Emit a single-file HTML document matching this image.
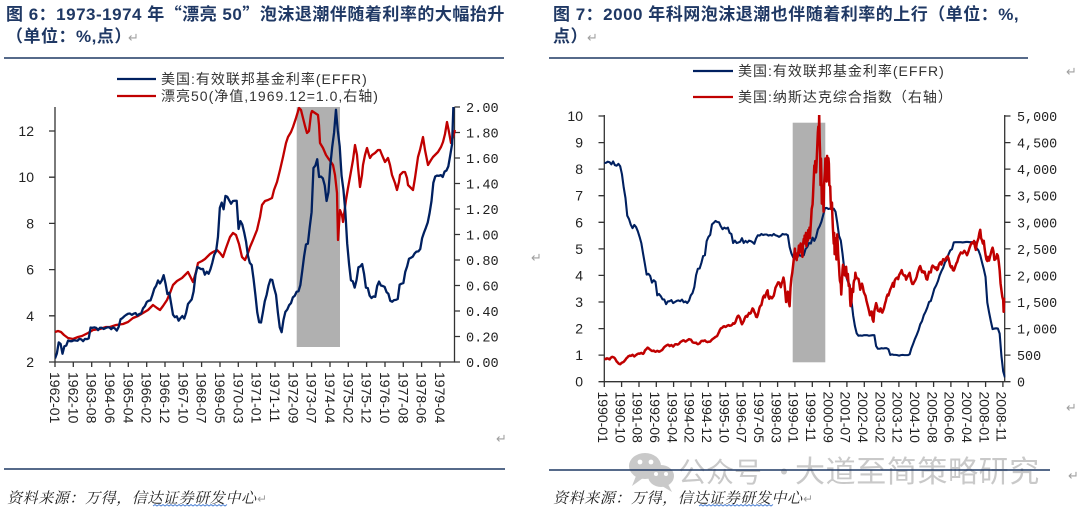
<!DOCTYPE html>
<html><head><meta charset="utf-8"><style>
html,body{margin:0;padding:0;background:#fff;}
svg{display:block;}
</style></head><body>
<svg width="1080" height="517" viewBox="0 0 1080 517" xmlns="http://www.w3.org/2000/svg">
<rect width="1080" height="517" fill="#fff"/>
<defs>
<clipPath id="cl"><rect x="55" y="107" width="400" height="255"/></clipPath>
<clipPath id="cr"><rect x="604.3" y="115" width="401" height="267"/></clipPath>
</defs>

<!-- Titles -->
<g font-family="'Liberation Sans','Noto Sans CJK SC',sans-serif" font-weight="bold" font-size="17" fill="#1f3864" letter-spacing="0.5">
<text x="6" y="20">图 6：1973-1974 年<tspan font-family="'Noto Sans CJK SC',sans-serif">“</tspan>漂亮 50<tspan font-family="'Noto Sans CJK SC',sans-serif">”</tspan>泡沫退潮伴随着利率的大幅抬升</text>
<text x="6" y="42">（单位：%,点）</text>
<text x="553" y="20">图 7：2000 年科网泡沫退潮也伴随着利率的上行（单位：%,</text>
<text x="553" y="42">点）</text>
</g>
<g font-family="'DejaVu Sans',sans-serif" font-size="13" fill="#a0a0a0">
<text x="128" y="42">↵</text>
<text x="587" y="42">↵</text>
<text x="531" y="262">↵</text>
<text x="496" y="443">↵</text>
<text x="1066" y="76">↵</text>
<text x="1066" y="412">↵</text>
<text x="1068" y="480">↵</text>
</g>

<!-- top rules -->
<line x1="4" y1="58" x2="504" y2="58" stroke="#1f3864" stroke-width="1.6"/>
<line x1="549" y1="58" x2="1028" y2="58" stroke="#1f3864" stroke-width="1.6"/>

<!-- Legends -->
<g font-family="'Liberation Sans','Noto Sans CJK SC',sans-serif" font-size="14" fill="#333" letter-spacing="1">
<line x1="117" y1="79" x2="156" y2="79" stroke="#002060" stroke-width="2.2"/>
<text x="161" y="84">美国:有效联邦基金利率(EFFR)</text>
<line x1="117" y1="96" x2="156" y2="96" stroke="#c00000" stroke-width="2.2"/>
<text x="161" y="101">漂亮50(净值,1969.12=1.0,右轴)</text>
<line x1="693" y1="71" x2="733" y2="71" stroke="#002060" stroke-width="2.2"/>
<text x="738" y="76">美国:有效联邦基金利率(EFFR)</text>
<line x1="693" y1="97" x2="733" y2="97" stroke="#c00000" stroke-width="2.2"/>
<text x="738" y="102">美国:纳斯达克综合指数（右轴）</text>
</g>

<!-- ================= LEFT CHART ================= -->
<rect x="296.7" y="107" width="43.3" height="240" fill="#b0b0b0"/>
<!-- axes -->
<g stroke="#333" stroke-width="1.3" fill="none">
<line x1="55" y1="107" x2="55" y2="362"/>
<line x1="454.5" y1="107" x2="454.5" y2="362"/>
<line x1="55" y1="362" x2="455" y2="362"/>
<path d="M49,362H55M49,315.8H55M49,269.6H55M49,223.4H55M49,177.2H55M49,131H55"/>
<path d="M454.5,362H460M454.5,336.5H460M454.5,311H460M454.5,285.5H460M454.5,260H460M454.5,234.5H460M454.5,209H460M454.5,183.5H460M454.5,158H460M454.5,132.5H460M454.5,107H460"/>
<path d="M55,362V367M73.3,362V367M91.7,362V367M110,362V367M128.3,362V367M146.7,362V367M165,362V367M183.3,362V367M201.6,362V367M220,362V367M238.3,362V367M256.6,362V367M275,362V367M293.3,362V367M311.6,362V367M330,362V367M348.3,362V367M366.6,362V367M385,362V367M403.3,362V367M421.6,362V367M440,362V367"/>
</g>
<g font-family="'Liberation Sans',sans-serif" font-size="14" fill="#222" text-anchor="end">
<text x="34" y="367">2</text>
<text x="34" y="320.8">4</text>
<text x="34" y="274.6">6</text>
<text x="34" y="228.4">8</text>
<text x="34" y="182.2">10</text>
<text x="34" y="136">12</text>
</g>
<g font-family="'Liberation Mono',monospace" font-size="13.6" fill="#222">
<text x="466" y="367">0.00</text>
<text x="466" y="341.5">0.20</text>
<text x="466" y="316">0.40</text>
<text x="466" y="290.5">0.60</text>
<text x="466" y="265">0.80</text>
<text x="466" y="239.5">1.00</text>
<text x="466" y="214">1.20</text>
<text x="466" y="188.5">1.40</text>
<text x="466" y="163">1.60</text>
<text x="466" y="137.5">1.80</text>
<text x="466" y="112">2.00</text>
</g>
<g font-family="'Liberation Sans',sans-serif" font-size="14" fill="#222" dominant-baseline="central">
<text transform="translate(55,372) rotate(90)">1962-01</text>
<text transform="translate(73.3,372) rotate(90)">1962-10</text>
<text transform="translate(91.7,372) rotate(90)">1963-08</text>
<text transform="translate(110,372) rotate(90)">1964-06</text>
<text transform="translate(128.3,372) rotate(90)">1965-04</text>
<text transform="translate(146.7,372) rotate(90)">1966-02</text>
<text transform="translate(165,372) rotate(90)">1966-12</text>
<text transform="translate(183.3,372) rotate(90)">1967-10</text>
<text transform="translate(201.6,372) rotate(90)">1968-07</text>
<text transform="translate(220,372) rotate(90)">1969-05</text>
<text transform="translate(238.3,372) rotate(90)">1970-03</text>
<text transform="translate(256.6,372) rotate(90)">1971-01</text>
<text transform="translate(275,372) rotate(90)">1971-11</text>
<text transform="translate(293.3,372) rotate(90)">1972-09</text>
<text transform="translate(311.6,372) rotate(90)">1973-07</text>
<text transform="translate(330,372) rotate(90)">1974-04</text>
<text transform="translate(348.3,372) rotate(90)">1975-02</text>
<text transform="translate(366.6,372) rotate(90)">1975-12</text>
<text transform="translate(385,372) rotate(90)">1976-10</text>
<text transform="translate(403.3,372) rotate(90)">1977-08</text>
<text transform="translate(421.6,372) rotate(90)">1978-06</text>
<text transform="translate(440,372) rotate(90)">1979-04</text>
</g>
<!-- Nifty 50 red -->
<polyline fill="none" stroke="#c00000" stroke-width="2.3" stroke-linejoin="round" points="55,332 58,331 61,332 64,335 68,338 73,339 78,337 82,336 88,333 93,330 100,329 106,327 110,327 116,325 123,324 128,322 133,318 138,316 143,313 148,310 153,305 157,308 160,310 163,306 167,300 170,293 173,285 177,281 182,278 186,274 188,272 191,278 193,282 196,272 198,263 202,261 205,259 208,256 210,254 213,252 217,250 220,253 223,257 226,248 230,237 233,233 236,235 239,244 242,257 245,260 248,253 250,247 253,240 257,230 260,217 262,205 265,201 268,200 272,198 274,190 277,182 280,170 283,157 286,143 288,137 291,132 293,127 296,118 299,108 301,110 303,118 305,126 307,133 309,131 311,114 312,111 315,113 318,115 319,125 320,143 323,148 326,155 328,158 331,162 333,165 335,175 337,193 338,240 339,225 340,210 342,215 343,222 346,200 348,188 350,177 353,160 355,145 357,155 358,167 360,187 362,175 363,165 365,155 367,148 369,155 370,158 372,155 375,153 378,150 380,150 382,155 385,162 388,158 390,165 392,175 395,183 397,190 399,182 400,175 403,172 405,172 407,178 408,185 411,188 413,190 415,178 418,157 420,150 423,137 425,150 427,160 428,165 431,160 433,157 436,154 438,152 441,147 443,142 445,134 447,122 449,132 451,143 453,137 455,130"/>
<!-- EFFR left blue -->
<g clip-path="url(#cl)">
<polyline fill="none" stroke="#002060" stroke-width="2.3" stroke-linejoin="round" vector-effect="non-scaling-stroke" transform="translate(55,408.2) scale(1.873,-23.1)" points="0,2.15 1,2.37 2,2.85 3,2.78 4,2.36 5,2.68 6,2.71 7,2.93 8,2.90 9,2.90 10,2.94 11,2.93 12,2.92 13,3.00 14,2.98 15,2.90 16,3.00 17,2.99 18,3.02 19,3.49 20,3.48 21,3.50 22,3.48 23,3.38 24,3.48 25,3.48 26,3.43 27,3.47 28,3.50 29,3.50 30,3.42 31,3.50 32,3.45 33,3.36 34,3.52 35,3.85 36,3.90 37,3.98 38,4.04 39,4.09 40,4.10 41,4.04 42,4.09 43,4.12 44,4.01 45,4.08 46,4.10 47,4.32 48,4.42 49,4.60 50,4.65 51,4.67 52,4.90 53,5.17 54,5.30 55,5.53 56,5.40 57,5.53 58,5.76 59,5.40 60,4.94 61,5.00 62,4.53 63,4.05 64,3.94 65,3.98 66,3.79 67,3.90 68,3.99 69,3.88 70,4.13 71,4.51 72,4.61 73,4.71 74,5.05 75,5.76 76,6.11 77,6.07 78,6.02 79,6.03 80,5.78 81,5.91 82,5.82 83,6.02 84,6.30 85,6.64 86,6.79 87,7.41 88,8.67 89,8.90 90,8.61 91,9.19 92,9.15 93,9.00 94,8.85 95,8.97 96,8.98 97,8.98 98,7.76 99,8.10 100,7.95 101,7.61 102,7.21 103,6.61 104,6.29 105,6.20 106,5.60 107,4.90 108,4.14 109,3.72 110,3.71 111,4.15 112,4.63 113,4.91 114,5.31 115,5.57 116,5.55 117,5.20 118,4.91 119,4.14 120,3.50 121,3.29 122,3.83 123,4.17 124,4.27 125,4.46 126,4.55 127,4.80 128,4.87 129,5.04 130,5.06 131,5.33 132,5.94 133,6.58 134,7.09 135,7.12 136,7.84 137,8.49 138,10.40 139,10.50 140,10.78 141,10.01 142,10.03 143,9.95 144,9.65 145,8.97 146,9.35 147,10.51 148,11.31 149,11.93 150,12.92 151,12.01 152,11.34 153,10.06 154,9.45 155,8.53 156,7.13 157,6.24 158,5.54 159,5.49 160,5.22 161,5.55 162,6.10 163,6.14 164,6.24 165,5.82 166,5.22 167,5.20 168,4.87 169,4.77 170,4.84 171,4.82 172,5.29 173,5.48 174,5.31 175,5.29 176,5.25 177,5.03 178,4.95 179,4.65 180,4.61 181,4.68 182,4.69 183,4.73 184,5.35 185,5.39 186,5.42 187,5.90 188,6.14 189,6.47 190,6.51 191,6.56 192,6.70 193,6.78 194,6.79 195,6.89 196,7.36 197,7.60 198,7.81 199,8.04 200,8.45 201,8.96 202,9.76 203,10.03 204,10.07 205,10.06 206,10.09 207,10.01 208,10.24 209,10.29 210,10.47 211,10.94 212,11.43 213,13.77"/>
</g>

<!-- ================= RIGHT CHART ================= -->
<rect x="792.7" y="122.7" width="32.6" height="239.6" fill="#b0b0b0"/>
<g stroke="#333" stroke-width="1.3" fill="none">
<line x1="604.3" y1="115" x2="604.3" y2="381.7"/>
<line x1="1004.7" y1="115" x2="1004.7" y2="381.7"/>
<line x1="604.3" y1="381.7" x2="1005" y2="381.7"/>
<path d="M598.5,381.7H604.3M598.5,355.1H604.3M598.5,328.6H604.3M598.5,302H604.3M598.5,275.4H604.3M598.5,248.9H604.3M598.5,222.3H604.3M598.5,195.7H604.3M598.5,169.1H604.3M598.5,142.6H604.3M598.5,116H604.3"/>
<path d="M1004.7,381.7H1010.5M1004.7,355.1H1010.5M1004.7,328.6H1010.5M1004.7,302H1010.5M1004.7,275.4H1010.5M1004.7,248.9H1010.5M1004.7,222.3H1010.5M1004.7,195.7H1010.5M1004.7,169.1H1010.5M1004.7,142.6H1010.5M1004.7,116H1010.5"/>
<path d="M604.3,381.7V387M621.6,381.7V387M639,381.7V387M656.3,381.7V387M673.6,381.7V387M691,381.7V387M708.3,381.7V387M725.6,381.7V387M743,381.7V387M760.3,381.7V387M777.6,381.7V387M794.9,381.7V387M812.3,381.7V387M829.6,381.7V387M846.9,381.7V387M864.3,381.7V387M881.6,381.7V387M898.9,381.7V387M916.2,381.7V387M933.6,381.7V387M950.9,381.7V387M968.2,381.7V387M985.6,381.7V387M1002.9,381.7V387"/>
</g>
<g font-family="'Liberation Sans',sans-serif" font-size="14" fill="#222" text-anchor="end">
<text x="583" y="386.7">0</text>
<text x="583" y="360.1">1</text>
<text x="583" y="333.6">2</text>
<text x="583" y="307">3</text>
<text x="583" y="280.4">4</text>
<text x="583" y="253.9">5</text>
<text x="583" y="227.3">6</text>
<text x="583" y="200.7">7</text>
<text x="583" y="174.1">8</text>
<text x="583" y="147.6">9</text>
<text x="583" y="121">10</text>
</g>
<g font-family="'Liberation Mono',monospace" font-size="13.4" fill="#222">
<text x="1017" y="386.7">0</text>
<text x="1017" y="360.1">500</text>
<text x="1017" y="333.6">1,000</text>
<text x="1017" y="307">1,500</text>
<text x="1017" y="280.4">2,000</text>
<text x="1017" y="253.9">2,500</text>
<text x="1017" y="227.3">3,000</text>
<text x="1017" y="200.7">3,500</text>
<text x="1017" y="174.1">4,000</text>
<text x="1017" y="147.6">4,500</text>
<text x="1017" y="121">5,000</text>
</g>
<g font-family="'Liberation Sans',sans-serif" font-size="14" fill="#222" dominant-baseline="central">
<text transform="translate(603,391.5) rotate(90)">1990-01</text>
<text transform="translate(620.3,391.5) rotate(90)">1990-10</text>
<text transform="translate(637.7,391.5) rotate(90)">1991-08</text>
<text transform="translate(655,391.5) rotate(90)">1992-06</text>
<text transform="translate(672.3,391.5) rotate(90)">1993-04</text>
<text transform="translate(689.7,391.5) rotate(90)">1994-02</text>
<text transform="translate(707,391.5) rotate(90)">1994-12</text>
<text transform="translate(724.3,391.5) rotate(90)">1995-10</text>
<text transform="translate(741.7,391.5) rotate(90)">1996-07</text>
<text transform="translate(759,391.5) rotate(90)">1997-05</text>
<text transform="translate(776.3,391.5) rotate(90)">1998-03</text>
<text transform="translate(793.6,391.5) rotate(90)">1999-01</text>
<text transform="translate(811,391.5) rotate(90)">1999-11</text>
<text transform="translate(828.3,391.5) rotate(90)">2000-09</text>
<text transform="translate(845.6,391.5) rotate(90)">2001-07</text>
<text transform="translate(863,391.5) rotate(90)">2002-04</text>
<text transform="translate(880.3,391.5) rotate(90)">2003-02</text>
<text transform="translate(897.6,391.5) rotate(90)">2003-12</text>
<text transform="translate(914.9,391.5) rotate(90)">2004-10</text>
<text transform="translate(932.3,391.5) rotate(90)">2005-08</text>
<text transform="translate(949.6,391.5) rotate(90)">2006-06</text>
<text transform="translate(966.9,391.5) rotate(90)">2007-04</text>
<text transform="translate(984.3,391.5) rotate(90)">2008-01</text>
<text transform="translate(1001.6,391.5) rotate(90)">2008-11</text>
</g>
<g clip-path="url(#cr)">
<!-- EFFR right blue -->
<polyline fill="none" stroke="#002060" stroke-width="2.1" stroke-linejoin="round" vector-effect="non-scaling-stroke" transform="translate(604.3,381.7) scale(1.765,-26.57)" points="0,8.23 1,8.24 2,8.28 3,8.26 4,8.18 5,8.29 6,8.15 7,8.13 8,8.20 9,8.11 10,7.81 11,7.31 12,6.91 13,6.25 14,6.12 15,5.91 16,5.78 17,5.90 18,5.82 19,5.66 20,5.45 21,5.21 22,4.81 23,4.43 24,4.03 25,4.06 26,3.98 27,3.73 28,3.82 29,3.76 30,3.25 31,3.30 32,3.22 33,3.10 34,3.09 35,2.92 36,3.02 37,3.03 38,3.07 39,2.96 40,3.00 41,3.04 42,3.06 43,3.03 44,3.09 45,2.99 46,3.02 47,2.96 48,3.05 49,3.25 50,3.34 51,3.56 52,4.01 53,4.25 54,4.26 55,4.47 56,4.73 57,4.76 58,5.29 59,5.45 60,5.53 61,5.92 62,5.98 63,6.05 64,6.01 65,6.00 66,5.85 67,5.74 68,5.80 69,5.76 70,5.80 71,5.60 72,5.56 73,5.22 74,5.31 75,5.22 76,5.24 77,5.27 78,5.40 79,5.22 80,5.30 81,5.24 82,5.31 83,5.29 84,5.25 85,5.19 86,5.39 87,5.51 88,5.50 89,5.56 90,5.52 91,5.54 92,5.54 93,5.50 94,5.52 95,5.50 96,5.56 97,5.51 98,5.49 99,5.45 100,5.49 101,5.56 102,5.54 103,5.55 104,5.51 105,5.07 106,4.83 107,4.68 108,4.63 109,4.76 110,4.81 111,4.74 112,4.74 113,4.76 114,4.99 115,5.07 116,5.22 117,5.20 118,5.42 119,5.30 120,5.45 121,5.73 122,5.85 123,6.02 124,6.27 125,6.53 126,6.54 127,6.50 128,6.52 129,6.51 130,6.51 131,6.40 132,5.98 133,5.49 134,5.31 135,4.80 136,4.21 137,3.97 138,3.77 139,3.65 140,3.07 141,2.49 142,2.09 143,1.82 144,1.73 145,1.74 146,1.73 147,1.75 148,1.75 149,1.75 150,1.73 151,1.74 152,1.75 153,1.75 154,1.34 155,1.24 156,1.24 157,1.26 158,1.25 159,1.26 160,1.26 161,1.22 162,1.01 163,1.03 164,1.01 165,1.01 166,1.00 167,0.98 168,1.00 169,1.01 170,1.00 171,1.00 172,1.00 173,1.03 174,1.26 175,1.43 176,1.61 177,1.76 178,1.93 179,2.16 180,2.28 181,2.50 182,2.63 183,2.79 184,3.00 185,3.04 186,3.26 187,3.50 188,3.62 189,3.78 190,4.00 191,4.16 192,4.29 193,4.49 194,4.59 195,4.79 196,4.94 197,4.99 198,5.24 199,5.25 200,5.25 201,5.25 202,5.25 203,5.24 204,5.25 205,5.26 206,5.26 207,5.25 208,5.25 209,5.25 210,5.26 211,5.02 212,4.94 213,4.76 214,4.49 215,4.24 216,3.94 217,2.98 218,2.61 219,2.28 220,1.98 221,2.00 222,2.01 223,2.00 224,1.81 225,0.97 226,0.39 227,0.16"/>
<!-- Nasdaq red -->
<polyline fill="none" stroke="#c00000" stroke-width="2.5" stroke-linejoin="round" vector-effect="non-scaling-stroke" transform="translate(604.3,381.7) scale(1.765,-0.05314)" points="0,415 0.5,432 1,425 1.5,440 2,435 2.5,428 3,420 3.5,445 4,458 4.5,468 5,462 5.5,455 6,438 6.5,410 7,381 7.5,365 8,345 8.5,335 9,329 9.5,345 10,359 10.5,365 11,374 12,414 12.5,440 13,453 13.5,475 14,482 14.5,492 15,485 15.5,495 16,506 16.5,490 17,475 17.5,490 18,502 18.5,515 19,525 19.5,530 20,527 20.5,535 21,542 21.5,530 22,523 22.5,545 23,586 24,620 24.5,640 25,633 25.5,615 26,603 26.5,590 27,578 27.5,580 28,585 28.5,570 29,563 29.5,570 30,581 30.5,575 31,563 31.5,570 32,583 32.5,590 33,605 33.5,630 34,652 34.5,665 35,677 36,696 36.5,690 37,670 37.5,680 38,690 38.5,675 39,661 39.5,680 40,700 40.5,705 41,704 41.5,698 42,705 42.5,720 43,743 43.5,755 44,763 44.5,775 45,779 45.5,765 46,754 46.5,765 47,777 48,800 48.5,795 49,793 49.5,770 50,743 50.5,735 51,733 51.5,730 52,735 52.5,715 53,706 53.5,712 54,722 54.5,745 55,766 55.5,770 56,764 56.5,772 57,777 57.5,760 58,750 58.5,745 59,752 60,755 60.5,775 61,793 61.5,805 62,817 62.5,830 63,843 63.5,850 64,864 64.5,900 65,933 65.5,975 66,1001 66.5,1010 67,1020 67.5,1040 68,1044 68.5,1030 69,1036 69.5,1050 70,1059 70.5,1065 71,1052 72,1060 72.5,1075 73,1100 73.5,1090 74,1101 74.5,1140 75,1191 75.5,1230 76,1243 76.5,1220 77,1185 77.5,1120 78,1081 78.5,1110 79,1141 79.5,1190 80,1227 80.5,1240 81,1222 81.5,1260 82,1293 82.5,1280 83,1291 84,1380 84.5,1360 85,1309 85.5,1280 86,1222 86.5,1215 87,1261 87.5,1330 88,1400 88.5,1430 89,1442 89.5,1520 90,1594 90.5,1620 91,1587 91.5,1640 92,1686 92.5,1720 93,1594 93.5,1560 94,1601 94.5,1590 95,1570 96,1619 96.5,1690 97,1771 97.5,1800 98,1835 98.5,1870 99,1868 99.5,1830 100,1779 100.5,1850 101,1895 101.5,1960 102,1873 102.5,1700 103,1499 103.5,1620 104,1694 104.5,1500 105,1420 105.25,1600 105.5,1771 106,1950 106.5,2050 107,2193 108,2505 108.25,2350 108.5,2420 109,2288 109.25,2400 109.5,2350 110,2461 110.25,2560 110.5,2420 111,2543 111.25,2600 111.5,2450 112,2471 112.25,2350 112.5,2560 113,2686 113.25,2600 113.5,2750 114,2638 114.25,2800 114.5,2550 115,2739 115.25,2650 115.5,2850 116,2746 116.25,2900 116.5,2700 117,2966 117.25,3100 117.5,3250 118,3336 118.25,3500 118.5,3700 119,4069 119.25,3950 119.5,4150 120,3940 120.25,4100 120.5,4300 121,4697 121.25,4800 121.5,4550 121.75,5048 122,4573 122.25,4300 122.5,3700 122.75,4200 123,3861 123.25,3350 123.5,3600 124,3401 124.25,3200 124.5,3700 125,3966 125.25,4200 125.5,3900 126,3767 126.25,4250 126.5,4000 127,4206 127.25,4100 127.5,3700 128,3673 128.25,3400 128.5,3250 129,3370 129.25,3100 129.5,2900 130,2598 130.25,2800 130.5,2400 131,2471 131.25,2700 131.5,2300 132,2773 132.25,2600 132.5,2400 133,2152 133.25,2000 133.5,1900 134,1840 134.25,1640 134.5,1800 135,2116 135.25,2200 135.5,2050 136,2110 136.25,2000 136.5,2150 137,2161 137.25,2050 137.5,1950 138,2027 138.25,1900 138.5,1800 139,1805 139.25,1550 139.5,1423 140,1499 140.25,1650 140.5,1750 141,1690 141.25,1850 141.5,1900 142,1931 142.25,2050 142.5,2000 143,1950 144,1934 144.5,1850 145,1731 145.5,1800 146,1845 146.5,1780 147,1688 147.5,1650 148,1616 148.5,1530 149,1463 149.5,1400 150,1328 150.5,1250 151,1315 151.5,1320 152,1172 152.5,1130 153,1330 153.5,1400 154,1479 154.5,1420 155,1336 156,1321 156.5,1380 157,1338 157.5,1300 158,1341 158.5,1390 159,1464 159.5,1520 160,1596 160.5,1640 161,1623 161.5,1680 162,1735 162.5,1770 163,1810 163.5,1860 164,1787 164.5,1900 165,1932 165.5,1950 166,1960 166.5,1930 167,2003 168,2066 168.5,2100 169,2030 169.5,2010 170,1994 170.5,2000 171,1920 171.5,1960 172,1987 172.5,2020 173,2048 173.5,1960 174,1887 174.5,1840 175,1838 175.5,1870 176,1897 176.5,1930 177,1975 177.5,2050 178,2097 178.5,2150 179,2175 180,2062 180.5,2080 181,2052 181.5,2070 182,1999 182.5,1930 183,1922 183.5,2000 184,2068 184.5,2060 185,2057 185.5,2150 186,2185 186.5,2170 187,2152 187.5,2130 188,2152 188.5,2100 189,2120 189.5,2200 190,2233 190.5,2250 191,2205 192,2306 192.5,2290 193,2281 193.5,2320 194,2340 194.5,2360 195,2323 195.5,2250 196,2179 196.5,2150 197,2172 197.5,2100 198,2091 198.5,2130 199,2184 199.5,2230 200,2258 200.5,2320 201,2367 201.5,2400 202,2432 202.5,2420 203,2415 204,2464 204.5,2440 205,2416 205.5,2380 206,2422 206.5,2470 207,2525 207.5,2570 208,2605 208.5,2620 209,2603 209.5,2650 210,2546 210.5,2480 211,2596 211.5,2650 212,2702 212.5,2800 213,2859 213.5,2700 214,2661 214.5,2600 215,2652 215.5,2500 216,2389 216.5,2300 217,2271 217.5,2350 218,2279 218.5,2350 219,2413 219.5,2480 220,2523 220.5,2450 221,2293 221.5,2300 222,2326 222.5,2400 223,2368 223.5,2250 224,2092 224.5,1850 225,1721 225.5,1600 226,1536 226.25,1316 226.5,1450 227,1577"/>
</g>

<!-- Watermark -->
<g fill="#c4c4c4" opacity="0.9">
<ellipse cx="645" cy="466" rx="16" ry="13"/>
<path d="M636,476 L632,486 L643,478 Z"/>
<ellipse cx="661" cy="476" rx="13" ry="11"/>
<path d="M668,484 L672,492 L662,486 Z"/>
<circle cx="640" cy="462" r="2.4" fill="#fff"/>
<circle cx="651" cy="462" r="2.4" fill="#fff"/>
<circle cx="656" cy="474" r="2" fill="#fff"/>
<circle cx="666" cy="474" r="2" fill="#fff"/>
<text x="678" y="482" font-family="'Noto Sans CJK SC',sans-serif" font-size="28">公众号</text>
<text x="770" y="482" font-family="'Noto Sans CJK SC',sans-serif" font-size="28">·</text>
<text x="795" y="482" font-family="'Noto Sans CJK SC',sans-serif" font-size="30" letter-spacing="0.6">大道至简策略研究</text>
</g>

<!-- bottom rules -->
<line x1="4" y1="469" x2="505" y2="469" stroke="#1f3864" stroke-width="1.6"/>
<line x1="549" y1="470" x2="1050" y2="470" stroke="#1f3864" stroke-width="1.6"/>

<!-- Source -->
<g font-family="'Noto Serif CJK SC','Noto Sans CJK SC',serif" font-size="15" fill="#222" font-style="italic" letter-spacing="0.6">
<text x="7" y="503">资料来源：万得，信达证券研发中心</text>
<text x="553" y="503">资料来源：万得，信达证券研发中心</text>
</g>
<g font-family="'DejaVu Sans',sans-serif" font-size="12" fill="#a0a0a0">
<text x="257" y="503">↵</text>
<text x="803" y="503">↵</text>
</g>
<polyline fill="none" stroke="#4a7fd4" stroke-width="0.9" points="153,506 155,504.5 157,506 159,504.5 161,506 163,504.5 165,506 167,504.5 169,506 171,504.5 173,506 175,504.5 177,506 179,504.5 181,506 183,504.5 185,506 187,504.5 189,506 191,504.5 193,506 195,504.5 197,506 199,504.5 201,506 203,504.5 205,506 207,504.5 209,506 211,504.5 213,506 215,504.5 217,506 219,504.5 221,506 223,504.5 225,506 227,504.5"/>
<polyline fill="none" stroke="#4a7fd4" stroke-width="0.9" points="699,506 701,504.5 703,506 705,504.5 707,506 709,504.5 711,506 713,504.5 715,506 717,504.5 719,506 721,504.5 723,506 725,504.5 727,506 729,504.5 731,506 733,504.5 735,506 737,504.5 739,506 741,504.5 743,506 745,504.5 747,506 749,504.5 751,506 753,504.5 755,506 757,504.5 759,506 761,504.5 763,506 765,504.5 767,506 769,504.5 771,506 773,504.5"/>
</svg>
</body></html>
